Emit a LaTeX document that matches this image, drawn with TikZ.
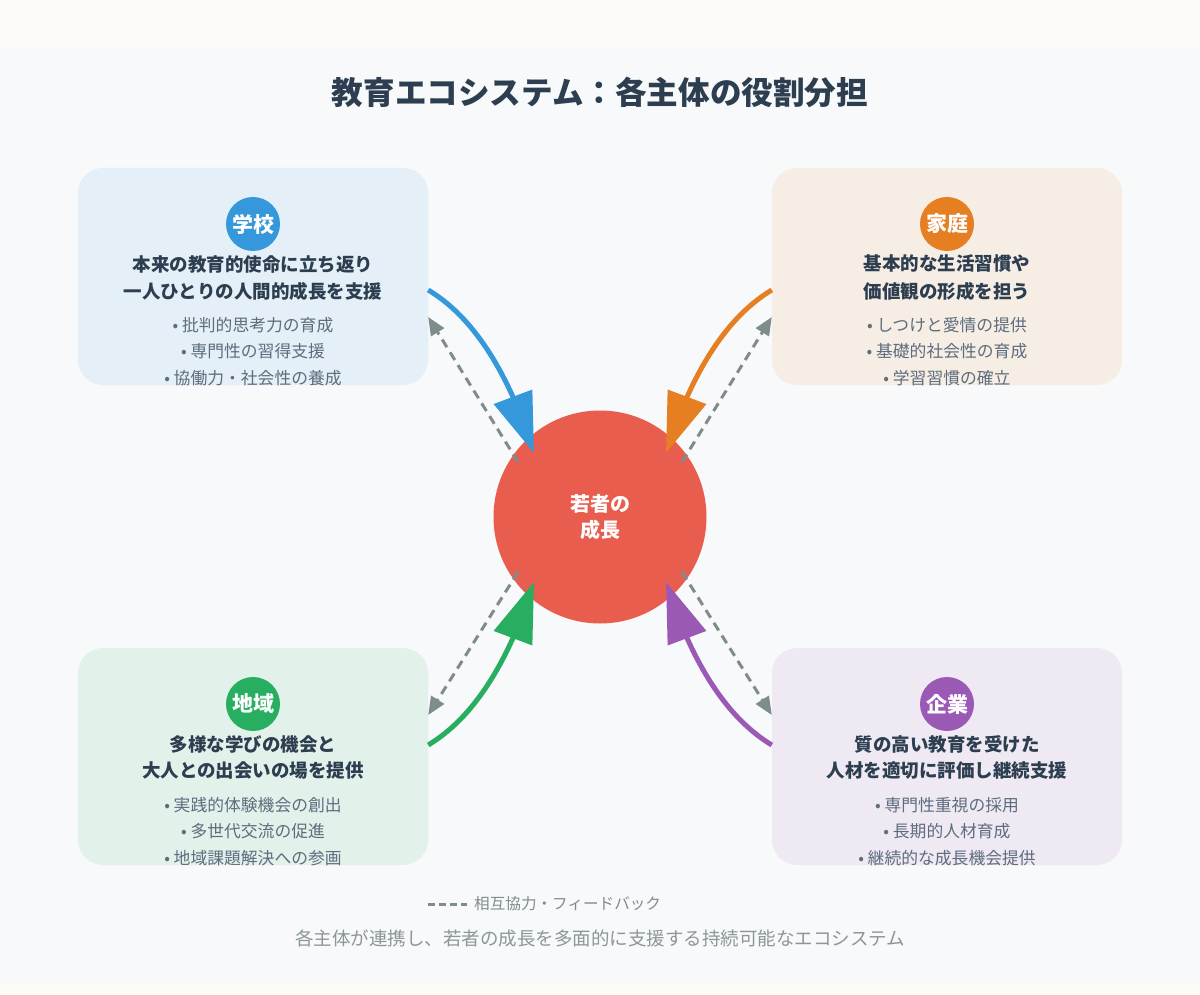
\documentclass[tikz,border=0pt]{standalone}
\usepackage{fontspec}
\setmainfont{Noto Sans CJK JP}
\usetikzlibrary{arrows.meta}
\definecolor{outerbg}{HTML}{FBFAF6}
\definecolor{cardbg}{HTML}{F7F9FA}
\definecolor{dark}{HTML}{2C3E50}
\definecolor{bulletc}{HTML}{5D6D7E}
\definecolor{grayc}{HTML}{7F8C8D}
\definecolor{footc}{HTML}{8C969A}
\definecolor{cblue}{HTML}{3498DB}
\definecolor{corange}{HTML}{E67E22}
\definecolor{cgreen}{HTML}{27AE60}
\definecolor{cpurple}{HTML}{9B59B6}
\definecolor{cred}{HTML}{E95D4F}
\definecolor{fblue}{HTML}{E4EFF7}
\definecolor{forange}{HTML}{F6EDE4}
\definecolor{fgreen}{HTML}{E3F1EB}
\definecolor{fpurple}{HTML}{EFE9F3}
\tikzset{
  panel/.style={rounded corners=25pt, minimum width=350pt, minimum height=217pt, inner sep=0pt, draw=none},
  badge/.style={circle, minimum size=54pt, inner sep=0pt, text=white, font=\fontsize{21}{24}\selectfont\bfseries},
  headline/.style={text=dark, font=\fontsize{18.5}{22}\selectfont\bfseries, inner sep=0pt},
  bullet/.style={text=bulletc, font=\fontsize{16.8}{19}\selectfont, inner sep=0pt},
  flow/.style={line width=5pt, line join=round, -{Triangle[length=60pt,width=40pt]}},
  feedback/.style={grayc, line width=3pt, dash pattern=on 9pt off 6pt, -{Triangle[length=18pt,width=15pt]}},
}
\begin{document}
\begin{tikzpicture}[x=1pt,y=-1pt]
\useasboundingbox (0,0) rectangle (1200,995);
\fill[outerbg] (0,0) rectangle (1200,995);
\fill[cardbg] (0,48) rectangle (1200,980);

\node[text=dark, font=\fontsize{31.6}{36}\selectfont\bfseries] (title) at (600,92) {教育エコシステム：各主体の役割分担};

% panels
\node[panel, fill=fblue] (school) at (253,276.5) {};
\node[panel, fill=forange] (home) at (947,276.5) {};
\node[panel, fill=fgreen] (region) at (253,756.5) {};
\node[panel, fill=fpurple] (firm) at (947,756.5) {};

% school
\node[badge, fill=cblue] (b1) at (253,224) {学校};
\node[headline] (h1a) at (253,264) {本来の教育的使命に立ち返り};
\node[headline] (h1b) at (253,291) {一人ひとりの人間的成長を支援};
\node[bullet] (p1a) at (253,325) {• 批判的思考力の育成};
\node[bullet] (p1b) at (253,351) {• 専門性の習得支援};
\node[bullet] (p1c) at (253,378) {• 協働力・社会性の養成};

% home
\node[badge, fill=corange] (b2) at (947,224) {家庭};
\node[headline] (h2a) at (947,264) {基本的な生活習慣や};
\node[headline] (h2b) at (947,291) {価値観の形成を担う};
\node[bullet] (p2a) at (947,325) {• しつけと愛情の提供};
\node[bullet] (p2b) at (947,351) {• 基礎的社会性の育成};
\node[bullet] (p2c) at (947,378) {• 学習習慣の確立};

% region
\node[badge, fill=cgreen] (b3) at (253,704) {地域};
\node[headline] (h3a) at (253,744) {多様な学びの機会と};
\node[headline] (h3b) at (253,771) {大人との出会いの場を提供};
\node[bullet] (p3a) at (253,805) {• 実践的体験機会の創出};
\node[bullet] (p3b) at (253,831) {• 多世代交流の促進};
\node[bullet] (p3c) at (253,858) {• 地域課題解決への参画};

% firm
\node[badge, fill=cpurple] (b4) at (947,704) {企業};
\node[headline] (h4a) at (947,744) {質の高い教育を受けた};
\node[headline] (h4b) at (947,771) {人材を適切に評価し継続支援};
\node[bullet] (p4a) at (947,805) {• 専門性重視の採用};
\node[bullet] (p4b) at (947,831) {• 長期的人材育成};
\node[bullet] (p4c) at (947,858) {• 継続的な成長機会提供};

% center
\node[circle, fill=cred, minimum size=213pt, inner sep=0pt] (youth) at (600,517) {};
\node[text=white, align=center, font=\fontsize{20}{26}\selectfont\bfseries] (youthtxt) at (600,517) {若者の\\成長};

% endpoints near the centre
\coordinate (tipS) at (534,453);
\coordinate (tipH) at (666,453);
\coordinate (tipR) at (534,582);
\coordinate (tipF) at (666,582);
\coordinate (baseS) at (513.3,397.7);
\coordinate (baseH) at (686.7,397.7);
\coordinate (baseR) at (513.3,637.3);
\coordinate (baseF) at (686.7,637.3);
\coordinate (fbS) at (518,462);
\coordinate (fbH) at (682,462);
\coordinate (fbR) at (518,572);
\coordinate (fbF) at (682,572);

% flows
\draw[flow, cblue] ([yshift=-13.5pt]school.east) .. controls (461.7,310.1) and (490.2,346.0) .. (baseS) -- (tipS);
\draw[flow, corange] ([yshift=-13.5pt]home.west) .. controls (738.3,310.1) and (709.8,346.0) .. (baseH) -- (tipH);
\draw[flow, cgreen] ([yshift=11.5pt]region.east) .. controls (461.7,724.9) and (490.2,689.0) .. (baseR) -- (tipR);
\draw[flow, cpurple] ([yshift=11.5pt]firm.west) .. controls (738.3,724.9) and (709.8,689.0) .. (baseF) -- (tipF);

% feedback
\draw[feedback] (fbS) -- ([yshift=-40.5pt]school.east);
\draw[feedback] (fbH) -- ([yshift=-40.5pt]home.west);
\draw[feedback] (fbR) -- ([yshift=41.5pt]region.east);
\draw[feedback] (fbF) -- ([yshift=41.5pt]firm.west);

% legend
\coordinate (lg1) at (428,904);
\coordinate (lg2) at (467,904);
\draw[grayc, line width=3pt, dash pattern=on 7pt off 4pt] (lg1) -- (lg2);
\node[anchor=west, text=grayc, font=\fontsize{15.6}{18}\selectfont, inner sep=0pt] (legend) at (474,904) {相互協力・フィードバック};
\node[text=footc, font=\fontsize{18.5}{22}\selectfont, inner sep=0pt] (foot) at (600,938) {各主体が連携し、若者の成長を多面的に支援する持続可能なエコシステム};
\end{tikzpicture}
\end{document}
